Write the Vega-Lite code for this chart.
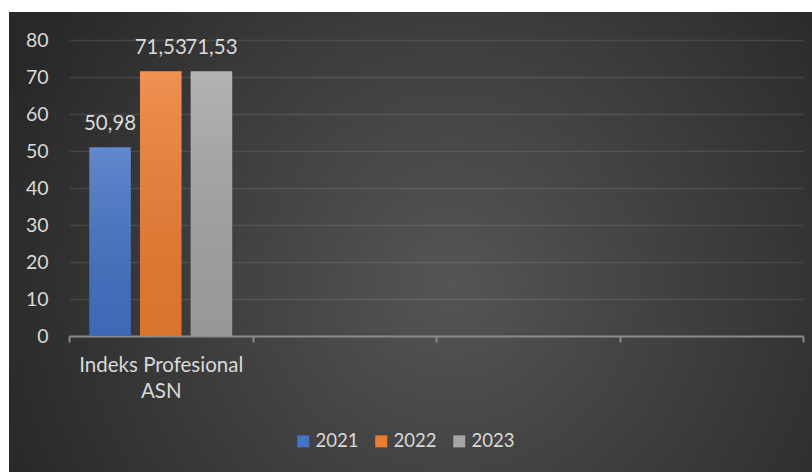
{
  "$schema": "https://vega.github.io/schema/vega-lite/v6.json",
  "width": 803,
  "height": 460,
  "autosize": {"type": "none"},
  "padding": {"left": 9, "top": 12, "right": 0, "bottom": 0},
  "background": "#ffffff",
  "config": {
    "locale": {"number": {"decimal": ",", "thousands": ".", "grouping": [3], "currency": ["Rp", ""]}},
    "view": {
      "stroke": null,
      "fill": {
        "gradient": "radial",
        "x1": 0.55, "y1": 0.55, "r1": 0,
        "x2": 0.55, "y2": 0.55, "r2": 0.6,
        "stops": [
          {"offset": 0, "color": "#555555"},
          {"offset": 1, "color": "#282828"}
        ]
      }
    },
    "font": "Lato"
  },
  "data": {
    "values": [
      {"kategori": "Indeks Profesional ASN", "tahun": "2021", "nilai": 50.98},
      {"kategori": "Indeks Profesional ASN", "tahun": "2022", "nilai": 71.53},
      {"kategori": "Indeks Profesional ASN", "tahun": "2023", "nilai": 71.53}
    ]
  },
  "encoding": {
    "x": {
      "field": "kategori",
      "type": "nominal",
      "scale": {
        "domain": ["Indeks Profesional ASN", "k2", "k3", "k4"],
        "range": [60, 794],
        "paddingInner": 0,
        "paddingOuter": 0
      },
      "axis": {
        "title": null,
        "orient": "bottom",
        "offset": -136,
        "labelAngle": 0,
        "labelExpr": "datum.value == 'Indeks Profesional ASN' ? ['Indeks Profesional', 'ASN'] : ''",
        "labelFont": "Lato",
        "labelFontSize": 20.5,
        "labelColor": "#d9d9d9",
        "labelLineHeight": 26,
        "labelPadding": 13,
        "labelBaseline": "top",
        "domainColor": "#8a8a8a",
        "domainWidth": 2,
        "tickColor": "#8a8a8a",
        "tickWidth": 2,
        "tickSize": 6,
        "tickBand": "extent",
        "grid": false
      }
    },
    "xOffset": {
      "field": "tahun",
      "type": "nominal",
      "scale": {"domain": ["2021", "2022", "2023"], "paddingInner": 0.18, "paddingOuter": 0.4}
    },
    "y": {
      "field": "nilai",
      "type": "quantitative",
      "scale": {"domain": [0, 80], "range": [324, 28], "nice": false, "zero": true},
      "axis": {
        "title": null,
        "orient": "left",
        "values": [0, 10, 20, 30, 40, 50, 60, 70, 80],
        "domain": false,
        "ticks": false,
        "tickSize": 0,
        "labelPadding": -39,
        "labelAlign": "right",
        "labelBaseline": "middle",
        "labelFont": "Lato",
        "labelFontSize": 19.5,
        "labelColor": "#d9d9d9",
        "grid": true,
        "gridColor": "#ffffff",
        "gridOpacity": 0.1,
        "gridWidth": 1.5
      }
    }
  },
  "layer": [
    {
      "mark": {"type": "bar"},
      "encoding": {
        "color": {
          "field": "tahun",
          "type": "nominal",
          "scale": {"domain": ["2021", "2022", "2023"], "range": ["#4472c4", "#ed7d31", "#a5a5a5"]},
          "legend": {
            "title": null,
            "orient": "none",
            "direction": "horizontal",
            "legendX": 285,
            "legendY": 420,
            "symbolType": "square",
            "symbolSize": 144,
            "symbolStrokeWidth": 0,
            "labelFont": "Lato",
            "labelFontSize": 18.5,
            "labelColor": "#d9d9d9",
            "labelOffset": 3,
            "columnPadding": 13
          }
        }
      }
    },
    {
      "mark": {
        "type": "bar",
        "color": {
          "gradient": "linear",
          "x1": 0, "y1": 0, "x2": 0, "y2": 1,
          "stops": [
            {"offset": 0, "color": "rgba(255,255,255,0.16)"},
            {"offset": 1, "color": "rgba(0,0,0,0.08)"}
          ]
        }
      }
    },
    {
      "mark": {"type": "text", "baseline": "alphabetic", "align": "center", "dy": -17, "font": "Lato", "fontSize": 20.5, "color": "#d9d9d9"},
      "encoding": {
        "text": {"field": "nilai", "type": "quantitative", "format": ".2f"}
      }
    }
  ]
}
